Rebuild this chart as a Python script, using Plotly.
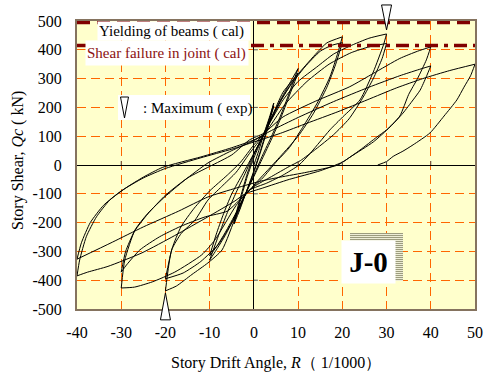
import plotly.graph_objects as go

# ---- hysteresis record: story drift angle R (1/1000) and story shear Qc (kN) ----
drift = [
    0, 1, 2.2, 3.5, 4.5,
    3, 1.5, 0, -2, -3.3, -4.5,
    -3, -1.5, 0, 2.2, 3.5, 4.5,
    3, 1.5, 0, -2, -3.3, -4.5,
    -3, -1.5, 0, 2.2, 4, 6.5, 8.5, 10,
    8, 6, 4, 2, 0, -2.2, -4, -6.5, -8.5, -10,
    -8, -6, -4, -2, 0, 2.2, 4, 6.5, 8.5, 10,
    8, 6, 4, 2, 0, -2.2, -4, -6.5, -8.5, -10,
    -8.5, -7, -5, -2.5, 0, 2.2, 4, 6.6, 10.4, 14.2, 16.5, 20,
    19, 17.2, 14.5, 11, 8, 5, 2, -2, -4, -7.2, -10.4, -14, -17.5, -20,
    -18.6, -16.4, -13.3, -10.4, -7.3, -4, -1, 2.2, 5, 8, 11.5, 15, 17.5, 20,
    18.5, 16.5, 13.5, 10, 6, 3, 0, -2.2, -5, -8, -12, -16, -20,
    -18.5, -16.5, -13.5, -10, -6, -3, 0, 2, 6.6, 10, 14.2, 18, 21.7, 26, 30,
    29.3, 27, 24, 20.1, 17.2, 14.9, 12.7, 10.2, 6.6, 2.9, -1, -4, -8.8, -11.8, -17.9, -23, -27, -30,
    -29.2, -26.9, -24, -20.1, -15.6, -10.4, -5, 0, 2.2, 7, 12, 17, 22, 26, 30,
    29, 27, 24.5, 21.5, 18, 14, 10.5, 8, 4, 0, -2.2, -6, -11, -16.7, -21.3, -25.8, -28.8, -30,
    -29, -27, -24, -20, -15, -10, -5, -1, 2.2, 6.6, 14, 21.7, 27, 33, 37, 40,
    39, 37, 35, 33, 30, 27.8, 24, 20, 15, 8, 2, -2, -4.3, -10.4, -17.9, -25.3, -33, -37.6, -40,
    -39.4, -37.9, -35.6, -32.6, -28.8, -25, -20.6, -12, -5, 0, 4, 10, 18, 26, 33, 37, 40,
    39, 37.6, 36, 33.7, 30.8, 27, 22, 19, 12, 6, 1.8, -4, -10.4, -17, -25, -32, -40,
    -39, -37, -34, -30, -25, -20, -12, -5, 0, 6, 12, 19, 25.6, 32.3, 38.2, 44.3, 50,
    49, 47.5, 45.9, 43, 39.8, 36, 33.7, 31.5, 30, 28,
]
shear = [
    0, 45, 105, 165, 215,
    130, 50, -20, -105, -160, -205,
    -120, -40, 25, 105, 160, 205,
    120, 45, -25, -105, -155, -195,
    -110, -30, 35, 105, 165, 240, 295, 335,
    250, 170, 100, 35, -35, -110, -170, -245, -295, -330,
    -245, -165, -95, -30, 40, 105, 160, 235, 285, 320,
    240, 160, 90, 25, -40, -110, -165, -235, -285, -315,
    -240, -175, -100, -30, 40, 105, 165, 253, 323, 389, 424, 445,
    390, 306, 220, 130, 60, 10, -45, -105, -175, -295, -340, -380, -420, -437,
    -295, -237, -191, -122, -75, -25, 40, 105, 195, 270, 340, 395, 415, 425,
    350, 270, 180, 100, 30, -20, -70, -110, -200, -275, -335, -375, -395,
    -290, -215, -150, -90, -35, 10, 70, 105, 226, 290, 340, 385, 413, 440, 455,
    417, 323, 226, 167, 122, 80, 40, 0, -35, -63, -87, -140, -260, -312, -372, -406, -424, -427,
    -330, -226, -168, -110, -52, 7, 50, 85, 105, 210, 290, 350, 390, 410, 422,
    370, 300, 230, 160, 105, 55, 15, -5, -40, -75, -105, -160, -180, -214, -249, -295, -347, -372,
    -300, -230, -170, -105, -45, -5, 35, 87, 110, 167, 222, 272, 318, 370, 395, 410,
    365, 300, 245, 170, 122, 97, 52, 10, -20, -50, -80, -100, -125, -180, -245, -305, -352, -372, -385,
    -330, -249, -180, -122, -78, -42, -8, 28, 60, 87, 120, 165, 220, 270, 310, 330, 344,
    307, 260, 226, 180, 132, 80, 30, 0, -25, -42, -55, -80, -111, -160, -215, -268, -327,
    -270, -200, -140, -90, -45, -12, 25, 55, 80, 110, 145, 185, 226, 268, 300, 328, 350,
    310, 270, 226, 170, 111, 70, 48, 30, 12, 0,
]

# calculated strengths (kN)
beam_yield_shear = 495
joint_shear_failure = 415

# experimental maxima (R, Qc)
max_positive = (30, 455)
max_negative = (-20, -437)

x_range = [-40, 50]
y_range = [-500, 500]
x_tick_vals = [-40, -30, -20, -10, 0, 10, 20, 30, 40, 50]
x_tick_text = ["-40", "-30", "-20", "-10", "0", "10", "20", "30", "40", "50"]
y_tick_vals = [-500, -400, -300, -200, -100, 0, 100, 200, 300, 400, 500]
y_tick_text = ["-500", "-400", "-300", "-200", "-100", "0", "100", "200", "300", "400", "500"]

SERIF = "Liberation Serif"
W, H = 486, 378
ML, MR, MT, MB = 77, 11, 21, 69
PW, PH = W - ML - MR, H - MT - MB


def px_x(px):
    return (px - ML) / PW


def px_y(py):
    return (H - MB - py) / PH


def dom_x(v):
    return (v - x_range[0]) / (x_range[1] - x_range[0])


def dom_y(v):
    return (v - y_range[0]) / (y_range[1] - y_range[0])


fig = go.Figure()

# split the loading path at every reversal so each half-cycle keeps a sharp peak
breaks = [0]
for i in range(1, len(drift) - 1):
    if (drift[i] - drift[i - 1]) * (drift[i + 1] - drift[i]) < 0:
        breaks.append(i)
breaks.append(len(drift) - 1)
for a, b in zip(breaks[:-1], breaks[1:]):
    fig.add_trace(go.Scatter(
        x=drift[a:b + 1], y=shear[a:b + 1], mode="lines",
        line=dict(color="black", width=1, shape="spline", smoothing=0.55),
        showlegend=False, hoverinfo="skip",
    ))

# calculated strength levels
fig.add_trace(go.Scatter(
    x=x_range, y=[beam_yield_shear] * 2, mode="lines",
    line=dict(color="#800000", width=3.5, dash="13px,7px"),
    showlegend=False, hoverinfo="skip",
))
fig.add_trace(go.Scatter(
    x=x_range, y=[joint_shear_failure] * 2, mode="lines",
    line=dict(color="#800000", width=3.5, dash="13px,6px,4px,6px"),
    showlegend=False, hoverinfo="skip",
))

shapes = []
# small tick marks along the zero lines
for v in x_tick_vals[1:-1]:
    if v == 0:
        continue
    shapes.append(dict(type="line", xref="x", yref="y", x0=v, x1=v,
                       ysizemode="pixel", yanchor=0, y0=0, y1=4,
                       line=dict(color="#555555", width=1)))
for v in y_tick_vals[1:-1]:
    if v == 0:
        continue
    shapes.append(dict(type="line", xref="x", yref="y", y0=v, y1=v,
                       xsizemode="pixel", xanchor=0, x0=0, x1=4,
                       line=dict(color="#555555", width=1)))

# slender triangles marking the experimental maxima
tri = dict(type="path", xref="x domain", yref="y domain",
           xsizemode="pixel", ysizemode="pixel",
           fillcolor="white", line=dict(color="black", width=1), layer="above")
shapes.append(dict(tri, xanchor=dom_x(max_positive[0]), yanchor=dom_y(max_positive[1]),
                   path="M -5 29 L 5 29 L 0 4 Z"))
shapes.append(dict(tri, xanchor=dom_x(max_negative[0]), yanchor=dom_y(max_negative[1]),
                   path="M -5 -29 L 5 -29 L 0 -2 Z"))

# white box of the maxima legend entry, then its symbol
shapes.append(dict(type="rect", xref="paper", yref="paper",
                   x0=px_x(118), x1=px_x(250), y0=px_y(120), y1=px_y(95),
                   fillcolor="white", line=dict(width=0), layer="above"))
shapes.append(dict(tri, xanchor=px_x(124.5), yanchor=px_y(118), xref="paper", yref="paper",
                   path="M -4 21 L 4 21 L 0 0 Z"))

# striped shadow behind the specimen label
shapes.append(dict(type="rect", xref="paper", yref="paper",
                   x0=px_x(350), x1=px_x(403), y0=px_y(281), y1=px_y(233),
                   fillcolor="#EDEDD6", line=dict(width=0), layer="above"))
for k in range(24):
    yy = 233.5 + 2 * k
    shapes.append(dict(type="line", xref="paper", yref="paper",
                       x0=px_x(350), x1=px_x(403), y0=px_y(yy), y1=px_y(yy),
                       line=dict(color="#9C9C7E", width=1), layer="above"))

annotations = [
    dict(text="Yielding of beams ( cal)", xref="paper", yref="paper",
         x=px_x(97), y=px_y(21), xanchor="left", yanchor="top",
         width=150, height=16, align="left", bgcolor="white", borderpad=1,
         showarrow=False, font=dict(family=SERIF, size=15, color="black")),
    dict(text="Shear failure in joint ( cal)", xref="paper", yref="paper",
         x=px_x(85), y=px_y(40), xanchor="left", yanchor="top",
         width=160, height=22, align="left", bgcolor="white", borderpad=1,
         showarrow=False, font=dict(family=SERIF, size=15, color="#8B1010")),
    dict(text=": Maximum ( exp)", xref="paper", yref="paper",
         x=px_x(141), y=px_y(108), xanchor="left", yanchor="middle",
         showarrow=False, font=dict(family=SERIF, size=15, color="black")),
    dict(text="<b>J-0</b>", xref="paper", yref="paper",
         x=px_x(368.5), y=px_y(262), xanchor="center", yanchor="middle",
         width=53, height=42, bgcolor="white", borderpad=0,
         showarrow=False, font=dict(family=SERIF, size=29, color="black")),
    dict(text="Story Drift Angle, <i>R</i>\uff08 1/1000\uff09", xref="paper", yref="paper",
         x=px_x(276), y=px_y(363), xanchor="center", yanchor="middle",
         showarrow=False, font=dict(family=SERIF, size=16, color="black")),
    dict(text="Story Shear, <i>Qc</i> ( kN)", xref="paper", yref="paper",
         x=px_x(18), y=px_y(161), xanchor="center", yanchor="middle", textangle=-90,
         showarrow=False, font=dict(family=SERIF, size=16, color="black")),
]

axis_common = dict(
    showgrid=True, gridcolor="#FF6600", gridwidth=1, griddash="9px,5px",
    zeroline=True, zerolinecolor="black", zerolinewidth=1,
    showline=True, mirror=True, linecolor="#85735F", linewidth=2,
    ticks="", tickfont=dict(family=SERIF, size=16, color="black"),
    fixedrange=True, automargin=False,
)

fig.update_layout(
    width=W, height=H,
    font=dict(family=SERIF, size=16, color="black"),
    margin=dict(l=ML, r=MR, t=MT, b=MB),
    paper_bgcolor="white", plot_bgcolor="#FFFFCC",
    xaxis=dict(axis_common, range=x_range, tickmode="array",
               tickvals=x_tick_vals, ticktext=x_tick_text, ticklabelstandoff=8),
    yaxis=dict(axis_common, range=y_range, tickmode="array",
               tickvals=y_tick_vals, ticktext=y_tick_text, ticklabelstandoff=10),
    shapes=shapes, annotations=annotations, showlegend=False,
)

fig.write_html("out.html", config={"displayModeBar": False})
